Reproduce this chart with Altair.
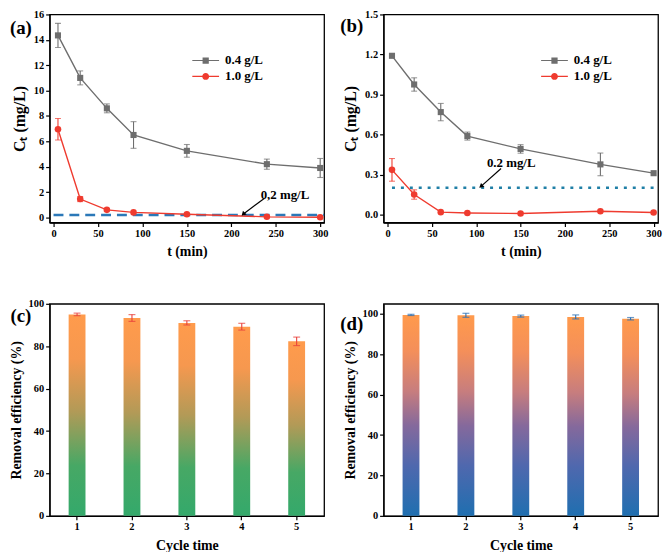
import altair as alt
import pandas as pd

FONT = "Liberation Serif"
GRAY = "#6e6e6e"
RED = "#ef3b2f"

# ---------------- data ----------------
t = [5, 30, 60, 90, 150, 240, 300]
series = ["0.4 g/L", "1.0 g/L"]

a_04 = [14.35, 11.0, 8.6, 6.5, 5.25, 4.2, 3.9]
a_04_err = [0.95, 0.55, 0.35, 1.05, 0.5, 0.4, 0.75]
a_10 = [6.95, 1.45, 0.6, 0.4, 0.25, 0.05, 0.02]
a_10_err = [0.85, 0.2, 0.08, 0.0, 0.0, 0.0, 0.0]

b_04 = [1.19, 0.975, 0.768, 0.588, 0.492, 0.376, 0.31]
b_04_err = [0.0, 0.05, 0.065, 0.03, 0.032, 0.085, 0.0]
b_10 = [0.335, 0.15, 0.018, 0.012, 0.008, 0.025, 0.015]
b_10_err = [0.085, 0.035, 0.0, 0.0, 0.0, 0.0, 0.0]

threshold = 0.2

cycles = ["1", "2", "3", "4", "5"]
c_eff = [95.0, 93.3, 91.0, 89.2, 82.3]
c_err = [0.6, 1.6, 1.0, 1.6, 2.0]
d_eff = [99.5, 99.3, 98.9, 98.5, 97.6]
d_err = [0.3, 1.0, 0.5, 1.0, 0.6]

# legend symbol paths (line + marker)
P_SQ = "M-3,-0.12H3V0.12H-3Z M-0.7,-0.7H0.7V0.7H-0.7Z"
P_CI = "M-3,-0.12H3V0.12H-3Z M0.78,0A0.78,0.78,0,1,1,-0.78,0A0.78,0.78,0,1,1,0.78,0Z"


def panel_label(text, px, py):
    return alt.Chart(pd.DataFrame({"lab": [text]})).mark_text(
        font=FONT, fontSize=19, fontWeight="bold", color="black", align="center", baseline="middle"
    ).encode(x=alt.value(px), y=alt.value(py), text="lab:N")


def line_panel(v04, e04, v10, e10, xdom, ydom, yticks, yfmt, w, h, label, label_xy,
               ann_text, ann_t, ann_c, arr, arr_angle, rule_t, dash, rule_color, rule_width, leg_xy):
    df = pd.DataFrame({
        "t": t + t,
        "c": v04 + v10,
        "err": e04 + e10,
        "series": [series[0]] * len(t) + [series[1]] * len(t),
    })
    df["lo"] = df["c"] - df["err"]
    df["hi"] = df["c"] + df["err"]

    xs = alt.Scale(domain=xdom, nice=False, zero=False)
    ys = alt.Scale(domain=ydom, nice=False, zero=False)
    xa = alt.Axis(values=[0, 50, 100, 150, 200, 250, 300], title="t (min)")
    ya = alt.Axis(values=yticks, format=yfmt, title="Cₜ (mg/L)", titleFontSize=16)
    X = alt.X("t:Q", scale=xs, axis=xa)
    cscale = alt.Scale(domain=series, range=[GRAY, RED])

    base = alt.Chart(df)

    leg = alt.Legend(
        title=None, orient="none", legendX=leg_xy[0], legendY=leg_xy[1], padding=0,
        symbolSize=81, symbolOpacity=1, symbolStrokeWidth=0, rowPadding=2,
        labelFont=FONT, labelFontSize=13, labelFontWeight="bold", labelColor="black", labelOffset=13,
    )
    legend_layer = base.mark_point(size=0.01, opacity=1, filled=True).encode(
        x=X, y=alt.Y("c:Q", scale=ys, axis=ya),
        color=alt.Color("series:N", scale=cscale, legend=leg),
        shape=alt.Shape("series:N", scale=alt.Scale(domain=series, range=[P_SQ, P_CI]), legend=leg),
    )

    thr = alt.Chart(pd.DataFrame({"t": [rule_t[0]], "t2": [rule_t[1]], "c": [threshold]})).mark_rule(
        color=rule_color, strokeWidth=rule_width, strokeDash=dash
    ).encode(x=X, x2="t2:Q", y=alt.Y("c:Q", scale=ys, axis=ya))

    errb = base.transform_filter("datum.err > 0")
    err_rule = errb.mark_rule(strokeWidth=1.1).encode(
        x=X, y=alt.Y("lo:Q", scale=ys, axis=ya), y2="hi:Q",
        color=alt.Color("series:N", scale=cscale, legend=None))
    err_lo = errb.mark_tick(orient="horizontal", size=6, thickness=1.1).encode(
        x=X, y=alt.Y("lo:Q", scale=ys, axis=ya),
        color=alt.Color("series:N", scale=cscale, legend=None))
    err_hi = errb.mark_tick(orient="horizontal", size=6, thickness=1.1).encode(
        x=X, y=alt.Y("hi:Q", scale=ys, axis=ya),
        color=alt.Color("series:N", scale=cscale, legend=None))

    lines = base.mark_line(strokeWidth=1.4).encode(
        x=X, y=alt.Y("c:Q", scale=ys, axis=ya),
        color=alt.Color("series:N", scale=cscale, legend=None))

    pts_g = base.transform_filter(alt.datum.series == series[0]).mark_square(
        size=38, color=GRAY, opacity=1).encode(x=X, y=alt.Y("c:Q", scale=ys, axis=ya))
    pts_r = base.transform_filter(alt.datum.series == series[1]).mark_circle(
        size=44, color=RED, opacity=1).encode(x=X, y=alt.Y("c:Q", scale=ys, axis=ya))

    ann = alt.Chart(pd.DataFrame({"t": [ann_t], "c": [ann_c], "txt": [ann_text]})).mark_text(
        font=FONT, fontSize=13, fontWeight="bold", color="black", align="left", baseline="middle"
    ).encode(x=X, y=alt.Y("c:Q", scale=ys, axis=ya), text="txt:N")

    arr_df = pd.DataFrame({"t": [arr[0]], "c": [arr[1]], "t2": [arr[2]], "c2": [arr[3]]})
    arrow_line = alt.Chart(arr_df).mark_rule(color="black", strokeWidth=1.2).encode(
        x=X, y=alt.Y("c:Q", scale=ys, axis=ya), x2="t2:Q", y2="c2:Q")
    head = alt.Chart(pd.DataFrame({"t": [arr[2]], "c": [arr[3]]})).mark_point(
        shape="triangle", angle=arr_angle, size=28, filled=True, color="black", opacity=1
    ).encode(x=X, y=alt.Y("c:Q", scale=ys, axis=ya))

    lab = panel_label(label, label_xy[0], label_xy[1])

    return alt.layer(
        legend_layer, thr, err_rule, err_lo, err_hi, lines, pts_g, pts_r, ann, arrow_line, head, lab
    ).properties(width=w, height=h)


def bar_panel(vals, errs, ydom, grad, ecolor, w, h, label, label_xy):
    df = pd.DataFrame({"cycle": cycles, "eff": vals, "err": errs})
    df["lo"] = df["eff"] - df["err"]
    df["hi"] = df["eff"] + df["err"]
    X = alt.X("cycle:O", scale=alt.Scale(domain=cycles, paddingInner=0, paddingOuter=0),
              axis=alt.Axis(title="Cycle time", labelAngle=0))
    ys = alt.Scale(domain=ydom, nice=False)
    ya = alt.Axis(values=[0, 20, 40, 60, 80, 100], title="Removal efficiency (%)", titlePadding=5)
    base = alt.Chart(df)
    bars = base.mark_bar(size=17, color=grad).encode(x=X, y=alt.Y("eff:Q", scale=ys, axis=ya))
    er = base.mark_rule(color=ecolor, strokeWidth=1.1).encode(
        x=X, y=alt.Y("lo:Q", scale=ys, axis=ya), y2="hi:Q")
    el = base.mark_tick(orient="horizontal", size=7, thickness=1.2, color=ecolor).encode(
        x=X, y=alt.Y("lo:Q", scale=ys, axis=ya))
    eh = base.mark_tick(orient="horizontal", size=7, thickness=1.2, color=ecolor).encode(
        x=X, y=alt.Y("hi:Q", scale=ys, axis=ya))
    lab = panel_label(label, label_xy[0], label_xy[1])
    return alt.layer(bars, er, el, eh, lab).properties(width=w, height=h)


grad_c = alt.LinearGradient(
    gradient="linear", x1=0, y1=1, x2=0, y2=0,
    stops=[
        alt.GradientStop(color="#34a96b", offset=0),
        alt.GradientStop(color="#47a865", offset=0.25),
        alt.GradientStop(color="#b29a57", offset=0.52),
        alt.GradientStop(color="#f6984f", offset=0.78),
        alt.GradientStop(color="#ff9b4c", offset=1),
    ],
)
grad_d = alt.LinearGradient(
    gradient="linear", x1=0, y1=1, x2=0, y2=0,
    stops=[
        alt.GradientStop(color="#1f6fb0", offset=0),
        alt.GradientStop(color="#4f68ae", offset=0.25),
        alt.GradientStop(color="#85699c", offset=0.45),
        alt.GradientStop(color="#c77d7e", offset=0.62),
        alt.GradientStop(color="#f48f5a", offset=0.82),
        alt.GradientStop(color="#ff9a4c", offset=1),
    ],
)

pa = line_panel(a_04, a_04_err, a_10, a_10_err, [-4.4, 304.4], [-0.4, 16],
                [0, 2, 4, 6, 8, 10, 12, 14, 16], "d", 277, 210, "(a)", (-29, 14),
                "0,2 mg/L", 233, 1.8, (237, 1.5, 214, 0.3), 225, (0, 304.4), [10, 6],
                "#2b78b8", 2.5, (151, 40))
pb = line_panel(b_04, b_04_err, b_10, b_10_err, [-4.5, 305], [-0.06, 1.5],
                [0, 0.3, 0.6, 0.9, 1.2, 1.5], ".1f", 277, 210, "(b)", (-32, 12),
                "0.2 mg/L", 112, 0.385, (128, 0.345, 106, 0.215), 230, (5, 300), [3, 6],
                "#1f7fa6", 2.5, (166, 40))
pc = bar_panel(c_eff, c_err, [0, 100], grad_c, "#e8403a", 277, 214, "(c)", (-29, 12))
pd_ = bar_panel(d_eff, d_err, [0, 105], grad_d, "#2a6fb5", 277, 214, "(d)", (-32, 20))

top = alt.hconcat(pa, pb, spacing=60, bounds="flush").resolve_scale(
    color="independent", shape="independent"
).resolve_legend(color="independent", shape="independent")
bottom = alt.hconcat(pc, pd_, spacing=60, bounds="flush")

chart = alt.vconcat(top, bottom, spacing=38).properties(
    padding={"left": 0, "top": -2, "right": 0, "bottom": 0}
).configure_axis(
    labelFont=FONT, labelFontSize=10.5, labelFontWeight="bold", labelColor="black",
    titleFont=FONT, titleFontSize=14, titleFontWeight="bold", titleColor="black",
    domainColor="black", domainWidth=1.2, tickColor="black", tickWidth=1.2, tickSize=4,
    grid=False, labelPadding=2,
).configure_axisY(titlePadding=6).configure_axisX(titlePadding=6).configure_view(
    stroke="black", strokeWidth=1.3
)

chart.save("out.html", embed_options={"renderer": "svg", "actions": False})
